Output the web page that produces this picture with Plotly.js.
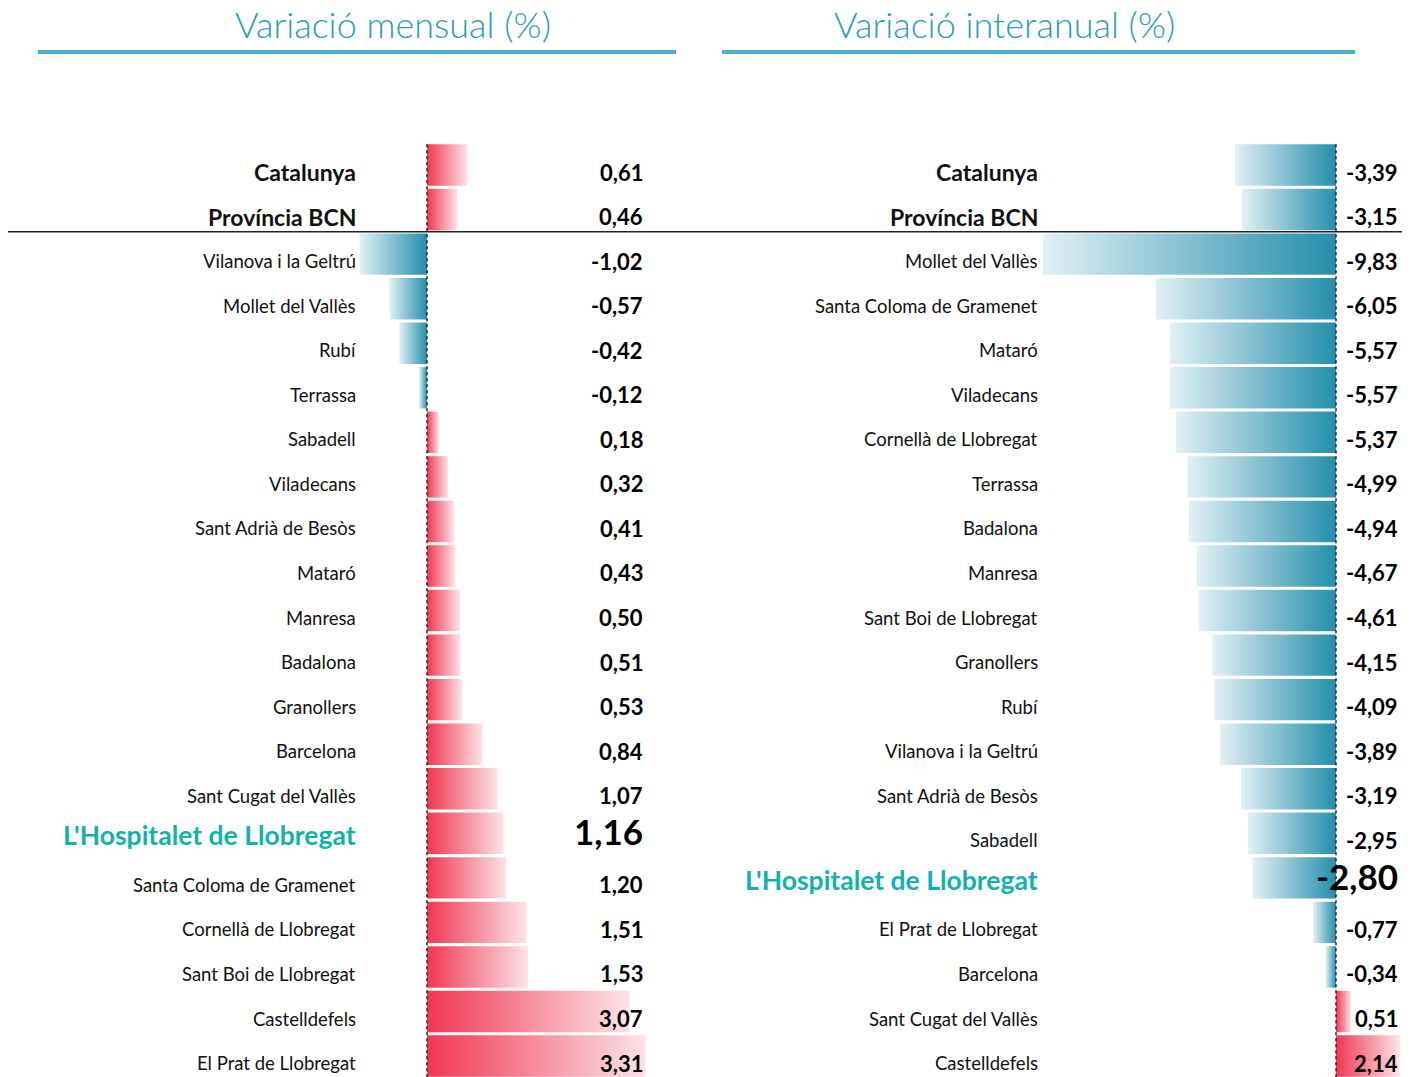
<!DOCTYPE html>
<html>
<head>
<meta charset="utf-8">
<script src="https://cdn.plot.ly/plotly-3.0.1.min.js"></script>
<style>html,body{margin:0;padding:0;background:#fff;}#chart{width:1414px;height:1077px;}</style>
</head>
<body>
<div id="chart"></div>
<script>
// ---- Data ----
const titleMensual = 'Variació mensual (%)';
const titleInteranual = 'Variació interanual (%)';

const mensualLabels = ['Catalunya','Província BCN','Vilanova i la Geltrú','Mollet del Vallès','Rubí','Terrassa','Sabadell','Viladecans','Sant Adrià de Besòs','Mataró','Manresa','Badalona','Granollers','Barcelona','Sant Cugat del Vallès',"L'Hospitalet de Llobregat",'Santa Coloma de Gramenet','Cornellà de Llobregat','Sant Boi de Llobregat','Castelldefels','El Prat de Llobregat'];
const mensualValues = [0.61,0.46,-1.02,-0.57,-0.42,-0.12,0.18,0.32,0.41,0.43,0.50,0.51,0.53,0.84,1.07,1.16,1.20,1.51,1.53,3.07,3.31];

const interanualLabels = ['Catalunya','Província BCN','Mollet del Vallès','Santa Coloma de Gramenet','Mataró','Viladecans','Cornellà de Llobregat','Terrassa','Badalona','Manresa','Sant Boi de Llobregat','Granollers','Rubí','Vilanova i la Geltrú','Sant Adrià de Besòs','Sabadell',"L'Hospitalet de Llobregat",'El Prat de Llobregat','Barcelona','Sant Cugat del Vallès','Castelldefels'];
const interanualValues = [-3.39,-3.15,-9.83,-6.05,-5.57,-5.57,-5.37,-4.99,-4.94,-4.67,-4.61,-4.15,-4.09,-3.89,-3.19,-2.95,-2.80,-0.77,-0.34,0.51,2.14];

const aggregateRows = ['Catalunya','Província BCN'];
const highlightRow = "L'Hospitalet de Llobregat";

// ---- Styling ----
const FONT = 'Lato, "Open Sans", sans-serif';
const RED = '#f03753', RED_LIGHT = '#fde3e8';
const TEAL = '#238fab', TEAL_LIGHT = '#e2f0f4';
const HALF = 0.465;

const W = 1414, H = 1077;
const traces = [];
const annotations = [];

function fmt(v){ return v.toFixed(2).replace('.', ','); }

function addPanel(labels, values, xa, ya, labelX, valueX){
  labels.forEach((lab, i) => {
    const v = values[i];
    const pos = v >= 0;
    traces.push({
      type:'scatter', mode:'none', xaxis:xa, yaxis:ya,
      x:[0, v, v, 0, 0],
      y:[i-HALF, i-HALF, i+HALF, i+HALF, i-HALF],
      fill:'toself',
      fillgradient: pos
        ? {type:'horizontal', start:0, stop:v, colorscale:[[0,RED],[1,RED_LIGHT]]}
        : {type:'horizontal', start:v, stop:0, colorscale:[[0,TEAL_LIGHT],[1,TEAL]]},
      hoverinfo:'skip', showlegend:false
    });
    const isAgg = aggregateRows.includes(lab);
    const isHi = lab === highlightRow;
    annotations.push({
      xref:'paper', yref:ya, x:labelX, y:i, xanchor:'right', yanchor:'middle',
      yshift: isHi ? -2 : -7,
      text: (isAgg||isHi) ? '<b>'+lab+'</b>' : lab, showarrow:false,
      font:{family:FONT, size: isHi ? 26.5 : (isAgg ? 23 : 18.5), color: isHi ? '#12b2aa' : '#111'}
    });
    annotations.push({
      xref:'paper', yref:ya, x:valueX, y:i, xanchor:'right', yanchor:'middle',
      yshift: isHi ? 2 : -7,
      text:'<b>'+fmt(v)+'</b>', showarrow:false,
      font:{family:FONT, size: isHi ? 35 : 22, color:'#000'}
    });
  });
}

addPanel(mensualLabels, mensualValues, 'x', 'y', 358/W, 645/W);
addPanel(interanualLabels, interanualValues, 'x2', 'y2', 1040/W, 1400/W);

// titles
annotations.push({xref:'paper', yref:'paper', x:393/W, y:1-24/H, xanchor:'center', yanchor:'middle', showarrow:false,
  text:titleMensual, font:{family:FONT, size:36, weight:300, color:'#2a9cb8'}});
annotations.push({xref:'paper', yref:'paper', x:1005/W, y:1-24/H, xanchor:'center', yanchor:'middle', showarrow:false,
  text:titleInteranual, font:{family:FONT, size:36, weight:300, color:'#2a9cb8'}});

const yRange = [20.47, -3.704];
const shapes = [
  {type:'line', xref:'paper', yref:'paper', x0:38/W, x1:676/W, y0:1-52/H, y1:1-52/H, line:{color:'#4caec9', width:4}},
  {type:'line', xref:'paper', yref:'paper', x0:722/W, x1:1355/W, y0:1-52/H, y1:1-52/H, line:{color:'#4caec9', width:4}},
  {type:'line', xref:'paper', yref:'y', x0:8/W, x1:1402/W, y0:1.5, y1:1.5, line:{color:'#222', width:1.5}},
  {type:'line', xref:'x', yref:'y', x0:0, x1:0, y0:-HALF, y1:yRange[0], line:{color:'#222', width:1.5, dash:'dot'}, layer:'above'},
  {type:'line', xref:'x2', yref:'y2', x0:0, x1:0, y0:-HALF, y1:yRange[0], line:{color:'#222', width:1.5, dash:'dot'}, layer:'above'}
];

const layout = {
  width:W, height:H, autosize:false,
  margin:{l:0, r:0, t:0, b:0, pad:0},
  paper_bgcolor:'#fff', plot_bgcolor:'rgba(0,0,0,0)',
  showlegend:false,
  xaxis:{domain:[0,0.5], range:[-427/66, (707-427)/66], visible:false, fixedrange:true},
  yaxis:{domain:[0,1], range:yRange, visible:false, fixedrange:true},
  xaxis2:{domain:[0.5,1], range:[-(1336-707)/29.8, (1414-1336)/29.8], visible:false, fixedrange:true},
  yaxis2:{domain:[0,1], range:yRange, visible:false, fixedrange:true, anchor:'x2'},
  shapes:shapes,
  annotations:annotations
};

Plotly.newPlot('chart', traces, layout, {displayModeBar:false, staticPlot:true});
</script>
</body>
</html>
